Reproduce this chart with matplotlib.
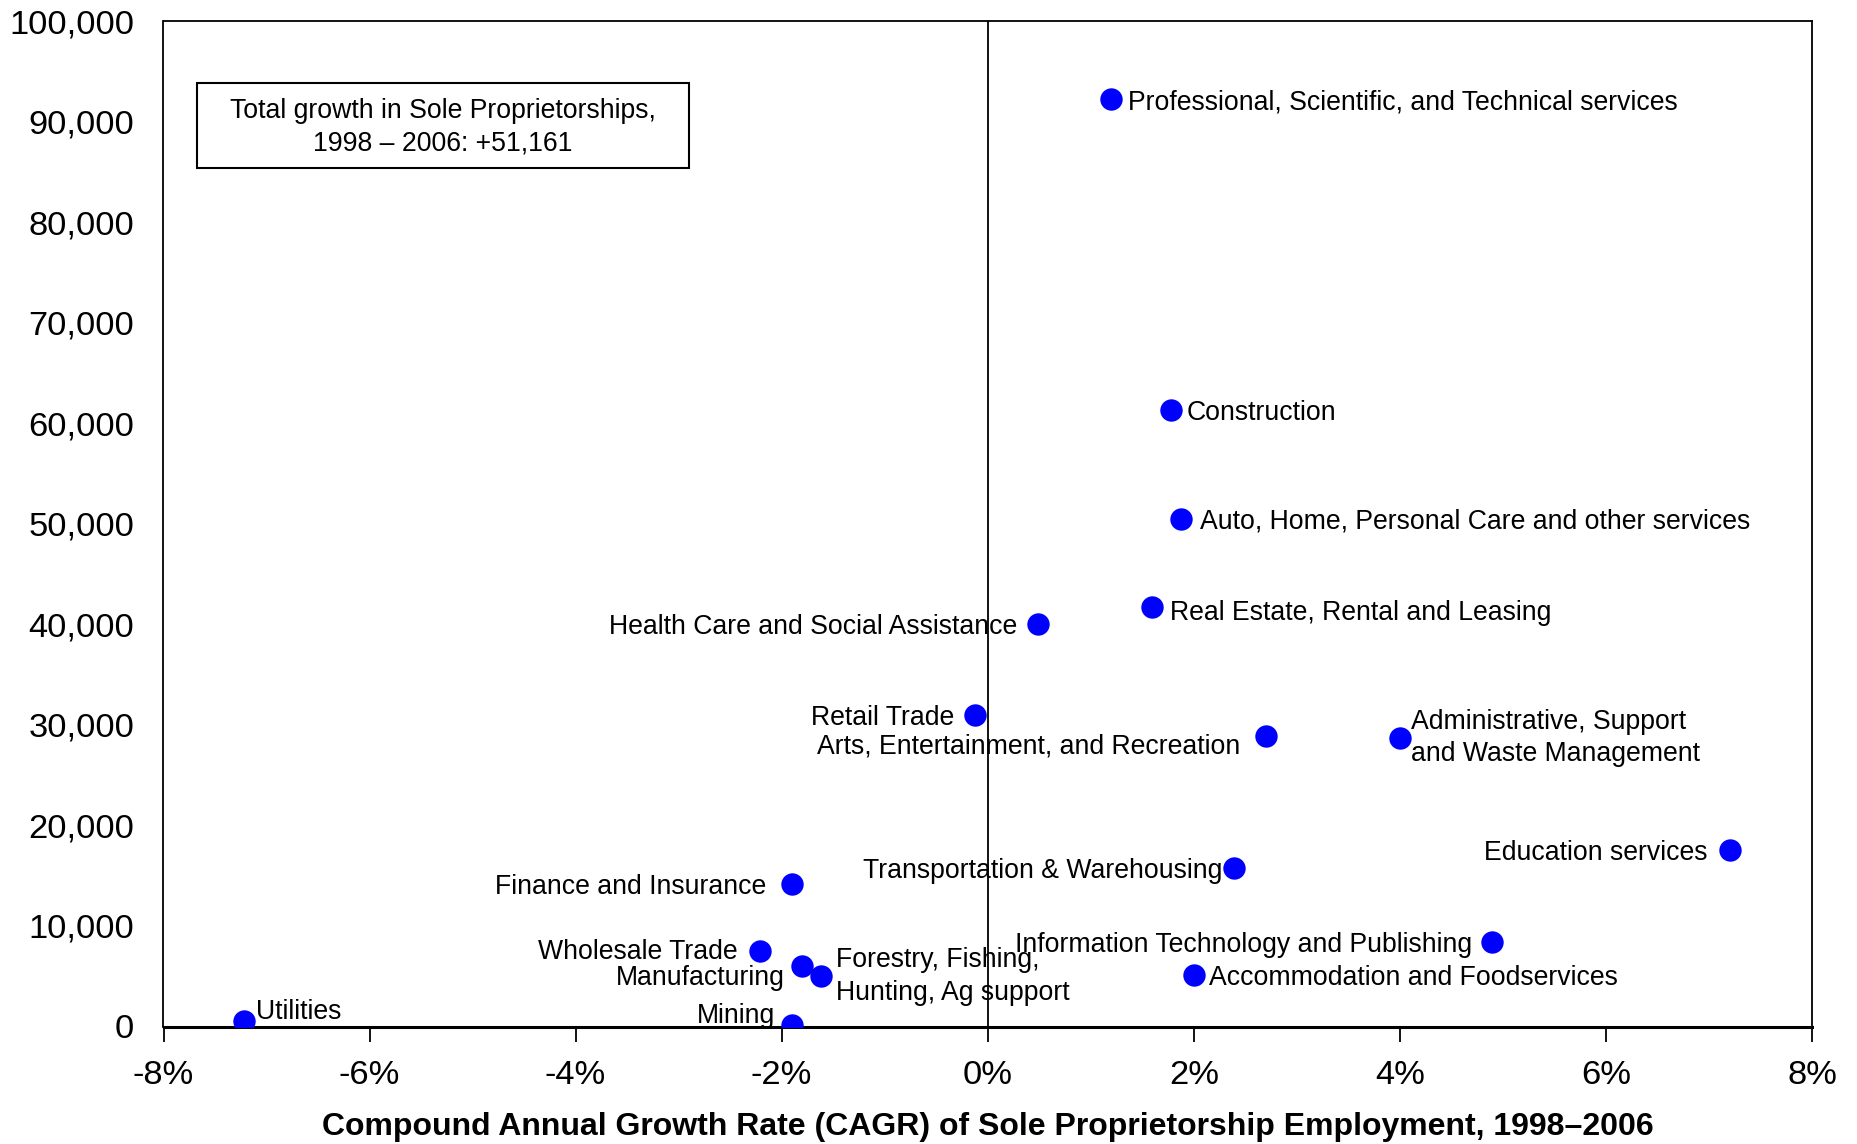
import matplotlib
matplotlib.use("Agg")
import matplotlib.pyplot as plt
from matplotlib.patches import Rectangle
from matplotlib.ticker import FuncFormatter

plt.rcParams['font.family'] = ['Liberation Sans', 'DejaVu Sans']

# ---- data ----
industries = [
    "Professional, Scientific, and Technical services",
    "Construction",
    "Auto, Home, Personal Care and other services",
    "Real Estate, Rental and Leasing",
    "Health Care and Social Assistance",
    "Retail Trade",
    "Arts, Entertainment, and Recreation",
    "Administrative, Support\nand Waste Management",
    "Education services",
    "Transportation & Warehousing",
    "Finance and Insurance",
    "Information Technology and Publishing",
    "Accommodation and Foodservices",
    "Wholesale Trade",
    "Manufacturing",
    "Forestry, Fishing,\nHunting, Ag support",
    "Mining",
    "Utilities",
]
cagr_pct = [1.20, 1.78, 1.88, 1.59, 0.49, -0.12, 2.70, 4.00, 7.20, 2.39,
            -1.90, 4.89, 2.00, -2.21, -1.80, -1.62, -1.90, -7.22]
growth = [92200, 61300, 50500, 41700, 40000, 31000, 28900, 28700, 17600, 15800,
          14200, 8400, 5100, 7500, 6000, 5000, 100, 500]
x_ticks = [-8, -6, -4, -2, 0, 2, 4, 6, 8]
y_ticks = [0, 10000, 20000, 30000, 40000, 50000, 60000, 70000, 80000, 90000, 100000]
box_text = "Total growth in Sole Proprietorships,\n1998 \u2013 2006: +51,161"
x_title = "Compound Annual Growth Rate (CAGR) of Sole Proprietorship Employment, 1998\u20132006"

# ---- label layout (offsets in pixels, alignment) ----
label_layout = [
    (17, -3, 'left'), (15, -3, 'left'), (19, -3, 'left'), (18, -6, 'left'),
    (-21, -3, 'right'), (-21, -3, 'right'), (-26, -11, 'right'), (11, 0, 'left'),
    (-22, -3, 'right'), (-12, -3, 'right'), (-26, -3, 'right'), (-19, -3, 'right'),
    (15, -3, 'left'), (-22, -1, 'right'), (-18, -12, 'right'), (15, 0, 'left'),
    (-17, 9, 'right'), (12, 9, 'left'),
]

W, H, DPI = 1858, 1144, 100
fig = plt.figure(figsize=(W / DPI, H / DPI), dpi=DPI)
ax = fig.add_axes([163.5 / W, 1 - 1026.5 / H, (1812 - 163.5) / W, (1026.5 - 21) / H])

ax.scatter(cagr_pct, growth, s=260, color='#0000FF', zorder=3, linewidths=0)

px2pt = 72 / DPI
for name, xv, yv, (dx, dy, ha) in zip(industries, cagr_pct, growth, label_layout):
    ax.annotate(name, (xv, yv), xytext=(dx * px2pt, dy * px2pt), textcoords='offset points',
                ha=ha, va='center', fontsize=19.2, color='black', linespacing=1.33, zorder=4)

ax.axvline(0, color='black', lw=1.3, zorder=2)

ax.set_xlim(x_ticks[0], x_ticks[-1])
ax.set_ylim(y_ticks[0], y_ticks[-1])
ax.set_xticks(x_ticks)
ax.set_yticks(y_ticks)
ax.xaxis.set_major_formatter(FuncFormatter(lambda v, p: f"{int(round(v))}%"))
ax.yaxis.set_major_formatter(FuncFormatter(lambda v, p: f"{int(round(v)):,}"))
ax.tick_params(axis='x', direction='out', length=11, width=1.3, pad=13, labelsize=24.8)
ax.tick_params(axis='y', length=0, pad=21, labelsize=24.8)

for side in ['top', 'right', 'left']:
    ax.spines[side].set_linewidth(1.3)
ax.spines['bottom'].set_linewidth(2.2)

ax.set_xlabel(x_title, fontsize=23, fontweight='bold', labelpad=15)

rect = Rectangle((0.0201, 0.8538), 0.3185 - 0.0201, 0.9383 - 0.8538, transform=ax.transAxes,
                 fill=False, edgecolor='black', lw=1.5, zorder=5)
ax.add_patch(rect)
ax.text((0.0201 + 0.3185) / 2, (0.8538 + 0.9383) / 2 - 0.002, box_text, transform=ax.transAxes,
        ha='center', va='center', fontsize=19.2, linespacing=1.33, zorder=6)

fig.savefig("out.png", dpi=DPI)
